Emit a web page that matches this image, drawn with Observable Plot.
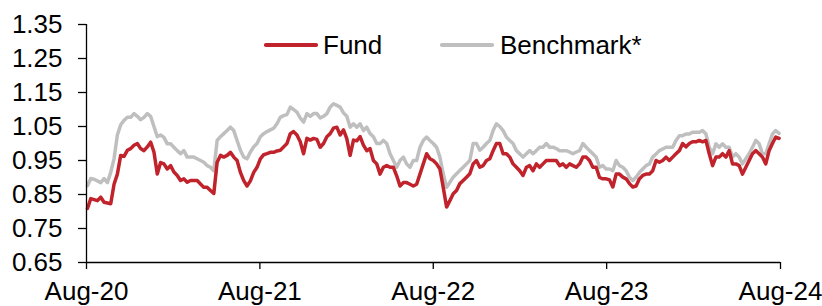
<!DOCTYPE html>
<html>
<head>
<meta charset="utf-8">
<script src="https://cdn.jsdelivr.net/npm/d3@7"></script>
<script src="https://cdn.jsdelivr.net/npm/@observablehq/plot@0.6"></script>
<style>
  html, body { margin: 0; padding: 0; background: #fff; }
  #wrap { position: relative; width: 822px; height: 306px; font-family: "Liberation Sans", Arial, sans-serif; }
  .leg-line { position: absolute; height: 3.5px; border-radius: 1.75px; }
  .leg-text { position: absolute; font-size: 26px; line-height: 30px; color: #000; white-space: nowrap; }
</style>
</head>
<body>
<div id="wrap"></div>
<script>
// Weekly observations starting on the first week of August 2020
const startDate = "2020-08-03";

const seriesNames = ["Fund", "Benchmark*"];
const seriesColors = ["#C0232B", "#BFBFBF"];

const fundValues = [
  0.809,0.838,0.835,0.832,0.842,0.827,0.825,0.823,0.880,0.910,
  0.965,0.962,0.980,0.985,0.995,1.000,0.985,0.979,0.990,1.004,
  0.975,0.910,0.944,0.940,0.925,0.935,0.916,0.906,0.891,0.896,
  0.886,0.891,0.891,0.891,0.881,0.871,0.871,0.862,0.853,0.945,
  0.965,0.960,0.965,0.974,0.960,0.950,0.915,0.891,0.875,0.890,
  0.915,0.930,0.955,0.967,0.970,0.974,0.974,0.978,0.980,0.990,
  1.000,1.029,1.035,1.025,1.005,0.970,1.015,1.010,1.015,1.012,
  0.989,1.000,1.020,1.029,1.045,1.048,1.025,1.040,1.014,0.965,
  1.010,1.008,1.020,0.995,0.979,0.985,0.950,0.940,0.910,0.930,
  0.935,0.930,0.930,0.905,0.875,0.885,0.885,0.880,0.875,0.880,
  0.910,0.940,0.970,0.955,0.950,0.940,0.925,0.871,0.813,0.832,
  0.852,0.862,0.882,0.891,0.901,0.911,0.940,0.950,0.930,0.935,
  0.950,0.955,0.979,1.000,1.000,0.970,0.970,0.960,0.940,0.930,
  0.920,0.906,0.930,0.935,0.920,0.940,0.930,0.940,0.950,0.950,
  0.950,0.950,0.935,0.940,0.930,0.940,0.935,0.930,0.940,0.960,
  0.960,0.950,0.930,0.930,0.900,0.896,0.896,0.893,0.872,0.910,
  0.910,0.901,0.896,0.882,0.872,0.875,0.896,0.906,0.910,0.910,
  0.920,0.950,0.945,0.950,0.960,0.950,0.960,0.970,0.979,1.000,
  0.990,1.000,1.005,1.005,1.009,1.005,1.009,0.970,0.935,0.960,
  0.960,0.970,0.960,0.979,0.940,0.940,0.935,0.910,0.930,0.950,
  0.970,0.979,0.970,0.960,0.940,0.979,1.000,1.019,1.015
];

const benchmarkValues = [
  0.876,0.897,0.895,0.890,0.885,0.897,0.885,0.915,0.955,1.025,
  1.055,1.068,1.077,1.077,1.088,1.080,1.070,1.077,1.088,1.080,
  1.050,1.020,1.025,1.018,0.999,0.999,0.989,0.979,0.970,0.979,
  0.960,0.960,0.960,0.955,0.950,0.945,0.935,0.930,0.920,1.009,
  1.020,1.029,1.038,1.048,1.038,1.009,0.980,0.960,0.955,0.975,
  0.990,1.000,1.020,1.029,1.035,1.040,1.045,1.058,1.077,1.082,
  1.085,1.107,1.100,1.092,1.075,1.063,1.088,1.080,1.088,1.088,
  1.075,1.080,1.088,1.107,1.117,1.112,1.107,1.090,1.080,1.048,
  1.058,1.048,1.058,1.038,1.048,1.029,1.020,1.000,1.000,1.009,
  1.000,0.970,0.950,0.930,0.950,0.960,0.940,0.930,0.950,0.950,
  0.989,1.009,1.019,1.009,1.000,0.989,0.960,0.911,0.871,0.886,
  0.901,0.911,0.921,0.930,0.940,0.950,1.000,1.000,0.980,0.989,
  1.000,1.009,1.038,1.058,1.050,1.038,1.019,1.009,1.000,0.979,
  0.970,0.960,0.970,0.979,0.970,0.979,0.989,0.989,1.000,0.989,
  0.989,0.985,0.979,0.979,0.979,0.975,0.970,0.975,0.979,1.000,
  0.989,0.979,0.970,0.960,0.930,0.935,0.925,0.925,0.920,0.950,
  0.935,0.930,0.920,0.901,0.891,0.901,0.915,0.925,0.935,0.940,
  0.960,0.969,0.979,0.984,0.989,0.989,0.989,1.009,1.023,1.023,
  1.028,1.028,1.033,1.033,1.033,1.038,1.028,0.989,0.970,0.999,
  0.989,0.999,0.989,0.989,0.960,0.970,0.960,0.940,0.955,0.970,
  0.989,1.009,0.999,0.970,0.970,0.999,1.028,1.038,1.030
];

const yTickValues = [0.65, 0.75, 0.85, 0.95, 1.05, 1.15, 1.25, 1.35];
const xTickLabels = ["2020-08-01", "2021-08-01", "2022-08-01", "2023-08-01", "2024-08-01"];

// ---- build tables ----
const start = new Date(startDate + "T00:00:00Z");
const toRows = (vals) => vals.map((v, i) => ({ date: d3.utcDay.offset(start, 7 * i), value: v }));
const fundRows = toRows(fundValues);
const benchRows = toRows(benchmarkValues);
const xTicks = xTickLabels.map(s => new Date(s + "T00:00:00Z"));

const chart = Plot.plot({
  width: 822,
  height: 306,
  marginLeft: 86,
  marginRight: 42,
  marginTop: 24,
  marginBottom: 44,
  style: {
    fontFamily: '"Liberation Sans", Arial, sans-serif',
    fontSize: "26px",
    color: "#000",
    background: "#fff",
    overflow: "visible"
  },
  x: { type: "utc", domain: [xTicks[0], xTicks[xTicks.length - 1]] },
  y: { domain: [yTickValues[0], yTickValues[yTickValues.length - 1]] },
  marks: [
    Plot.lineY(benchRows, { x: "date", y: "value", stroke: seriesColors[1], strokeWidth: 3.5, strokeLinejoin: "round" }),
    Plot.lineY(fundRows, { x: "date", y: "value", stroke: seriesColors[0], strokeWidth: 3.5, strokeLinejoin: "round" }),
    Plot.ruleX([xTicks[0]], { stroke: "#000", strokeWidth: 1.3 }),
    Plot.ruleY([yTickValues[0]], { stroke: "#000", strokeWidth: 1.3 }),
    Plot.axisY({
      ticks: yTickValues,
      tickFormat: d => d.toFixed(2),
      tickSize: 8,
      tickPadding: 16,
      label: null,
      strokeWidth: 1.3
    }),
    Plot.axisX({
      ticks: xTicks,
      tickFormat: d3.utcFormat("%b-%y"),
      tickSize: 7,
      tickPadding: 12,
      label: null,
      strokeWidth: 1.3
    })
  ]
});

const wrap = document.getElementById("wrap");
wrap.appendChild(chart);

// ---- legend (inside plot area, as in the original) ----
const legendItems = [
  { name: seriesNames[0], color: seriesColors[0], lineLeft: 264, textLeft: 323 },
  { name: seriesNames[1], color: seriesColors[1], lineLeft: 440, textLeft: 500 }
];
for (const item of legendItems) {
  const line = document.createElement("div");
  line.className = "leg-line";
  line.style.left = item.lineLeft + "px";
  line.style.top = "43.25px";
  line.style.width = "54px";
  line.style.background = item.color;
  wrap.appendChild(line);
  const t = document.createElement("div");
  t.className = "leg-text";
  t.style.left = item.textLeft + "px";
  t.style.top = "30px";
  t.textContent = item.name;
  wrap.appendChild(t);
}
</script>
</body>
</html>
